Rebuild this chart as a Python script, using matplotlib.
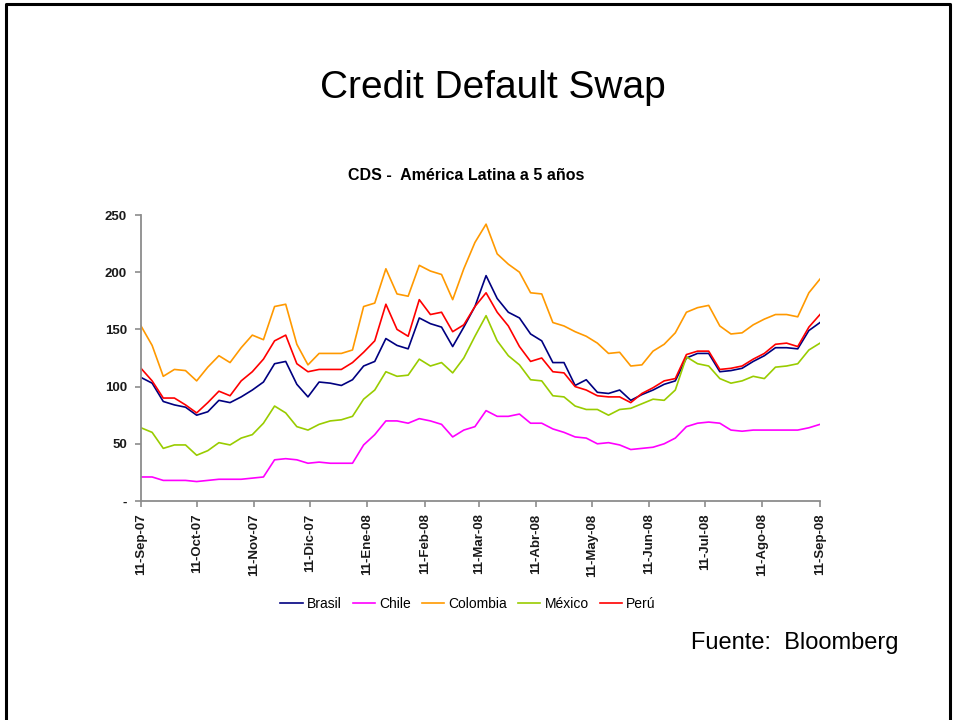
import pandas as pd
import matplotlib.pyplot as plt
from matplotlib.lines import Line2D

plt.rcParams['font.family'] = ['Liberation Sans', 'DejaVu Sans']

# ─────────────── datos (pb, cada 6 días) ───────────────
dates = pd.date_range('2007-09-11', '2008-09-11', freq='6D')

brasil = [108, 103, 87, 84, 82, 75, 78, 88, 86, 91, 97, 104, 120, 122, 102, 91,
          104, 103, 101, 106, 118, 122, 142, 136, 133, 160, 155, 152, 135, 152,
          170, 197, 177, 165, 160, 146, 140, 121, 121, 101, 106, 95, 94, 97, 88, 93,
          97, 102, 105, 125, 129, 129, 113, 114, 116, 122, 127, 134, 134, 133, 149, 156]
chile = [21, 21, 18, 18, 18, 17, 18, 19, 19, 19, 20, 21, 36, 37, 36, 33,
         34, 33, 33, 33, 49, 58, 70, 70, 68, 72, 70, 67, 56, 62,
         65, 79, 74, 74, 76, 68, 68, 63, 60, 56, 55, 50, 51, 49, 45, 46,
         47, 50, 55, 65, 68, 69, 68, 62, 61, 62, 62, 62, 62, 62, 64, 67]
colombia = [153, 136, 109, 115, 114, 105, 117, 127, 121, 134, 145, 141, 170, 172, 137, 119,
            129, 129, 129, 132, 170, 173, 203, 181, 179, 206, 201, 198, 176, 203,
            226, 242, 216, 207, 200, 182, 181, 156, 153, 148, 144, 138, 129, 130, 118, 119,
            131, 137, 147, 165, 169, 171, 153, 146, 147, 154, 159, 163, 163, 161, 182, 194]
mexico = [64, 60, 46, 49, 49, 40, 44, 51, 49, 55, 58, 68, 83, 77, 65, 62,
          67, 70, 71, 74, 89, 97, 113, 109, 110, 124, 118, 121, 112, 125,
          144, 162, 140, 127, 119, 106, 105, 92, 91, 83, 80, 80, 75, 80, 81, 85,
          89, 88, 97, 126, 120, 118, 107, 103, 105, 109, 107, 117, 118, 120, 132, 138]
peru = [116, 105, 90, 90, 84, 77, 86, 96, 92, 105, 113, 124, 140, 145, 120, 113,
        115, 115, 115, 121, 130, 140, 172, 150, 144, 176, 163, 165, 148, 154,
        170, 182, 165, 153, 135, 122, 125, 113, 112, 100, 97, 92, 91, 91, 86, 94,
        99, 105, 107, 128, 131, 131, 115, 116, 118, 124, 129, 137, 138, 135, 152, 163]

series = ['Brasil', 'Chile', 'Colombia', 'México', 'Perú']
colors = {'Brasil': '#000080', 'Chile': '#ff00ff', 'Colombia': '#ff9900',
          'México': '#99cc00', 'Perú': '#ff0000'}

tick_dates = pd.date_range('2007-09-11', '2008-09-11', freq='MS') + pd.Timedelta(days=10)
tick_labels = ['11-Sep-07', '11-Oct-07', '11-Nov-07', '11-Dic-07', '11-Ene-08', '11-Feb-08',
               '11-Mar-08', '11-Abr-08', '11-May-08', '11-Jun-08', '11-Jul-08', '11-Ago-08',
               '11-Sep-08']
tick_dates = [pd.Timestamp('2007-09-11')] + list(tick_dates)

df = pd.DataFrame({'Brasil': brasil, 'Chile': chile, 'Colombia': colombia,
                   'México': mexico, 'Perú': peru}, index=dates)

# ─────────────── figura ───────────────
fig = plt.figure(figsize=(9.55, 7.2), dpi=100)
ax = fig.add_axes([141 / 955, 1 - 501 / 720, 679 / 955, 286 / 720])

for name in series:
    ax.plot(df.index, df[name], color=colors[name], lw=1.2, label=name)

ax.set_xlim(pd.Timestamp('2007-09-11'), pd.Timestamp('2008-09-11'))
ax.set_ylim(0, 250)
ax.set_yticks([0, 50, 100, 150, 200, 250])
ax.set_yticklabels(['-', '50', '100', '150', '200', '250'])
ax.set_xticks(tick_dates)
ax.set_xticklabels(tick_labels, rotation=90)

for s in ['top', 'right']:
    ax.spines[s].set_visible(False)
for s in ['left', 'bottom']:
    ax.spines[s].set_color('#8c8c8c')
    ax.spines[s].set_linewidth(1.3)
ax.tick_params(axis='both', colors='#8c8c8c', length=4, width=1.2, direction='out')
ax.tick_params(axis='y', labelcolor='#1a1a1a', labelsize=9.5, pad=6)
ax.tick_params(axis='x', labelcolor='#1a1a1a', labelsize=9.5, pad=5)
for lab in ax.get_xticklabels() + ax.get_yticklabels():
    lab.set_fontweight('bold')

ax.legend(loc='center', bbox_to_anchor=(468 / 955, 1 - 604 / 720),
          bbox_transform=fig.transFigure, ncol=5, frameon=False, fontsize=10,
          handlelength=1.6, handletextpad=0.3, columnspacing=0.8)

fig.text(493 / 955, 1 - 88 / 720, 'Credit Default Swap', ha='center', va='center', fontsize=28)
fig.text(466 / 955, 1 - 175 / 720, 'CDS -  América Latina a 5 años', ha='center', va='center',
         fontsize=11.5, fontweight='bold')
fig.text(691 / 955, 1 - 643 / 720, 'Fuente:  Bloomberg', ha='left', va='center', fontsize=17)

# marco de la diapositiva
fx0, fx1, fy1 = 6 / 955, 950 / 955, 1 - 4 / 720
fig.add_artist(Line2D([fx0, fx0, fx1, fx1], [0, fy1, fy1, 0], transform=fig.transFigure,
                      color='black', lw=2.2))

fig.savefig('out.png', dpi=100)
